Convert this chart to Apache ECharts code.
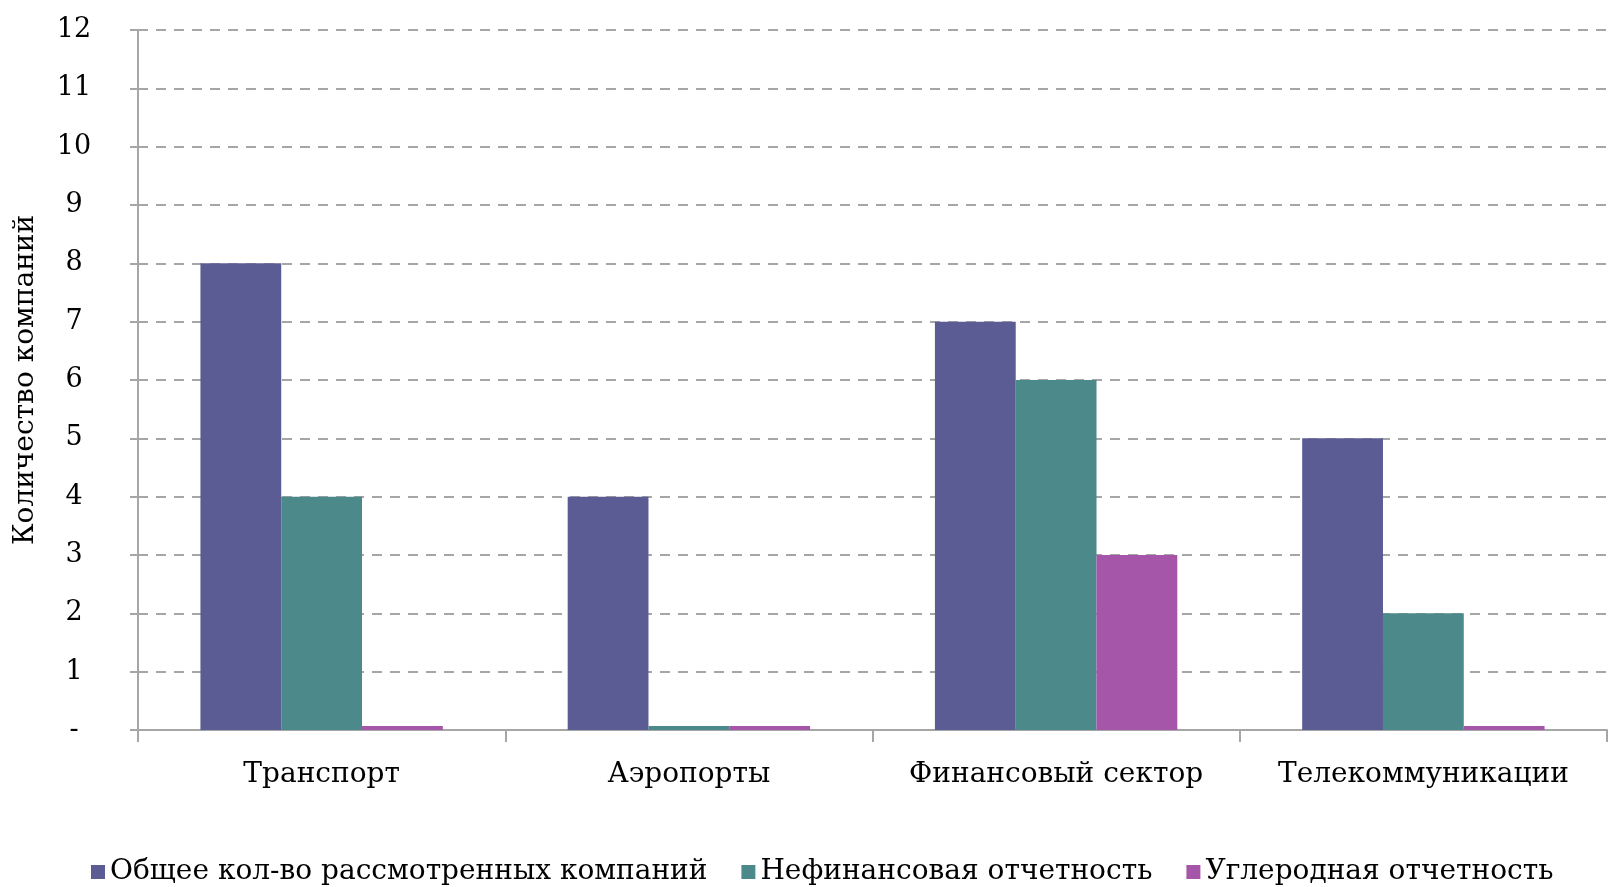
<!DOCTYPE html>
<html>
<head>
<meta charset="utf-8">
<script src="https://cdn.jsdelivr.net/npm/echarts@6/dist/echarts.min.js"></script>
<style>
  html, body { margin: 0; padding: 0; background: #fff; }
  #chart { width: 1608px; height: 887px; }
</style>
</head>
<body>
<div id="chart"></div>
<script>
// данные
var categories = ['Транспорт', 'Аэропорты', 'Финансовый сектор', 'Телекоммуникации'];
var seriesNames = ['Общее кол-во рассмотренных компаний', 'Нефинансовая отчетность', 'Углеродная отчетность'];
var totalCompanies = [8, 4, 7, 5];
var nonFinancial = [4, 0, 6, 2];
var carbon = [0, 0, 3, 0];
var yTicks = { min: 0, max: 12, step: 1 };

var colors = ['#5c5c94', '#4c898b', '#a656a8'];
var font = '"DejaVu Serif", "Liberation Serif", serif';

var vm = echarts.init(document.getElementById('chart'));

function barSeries(name, data, i) {
	return {
		name: name,
		type: 'bar',
		data: data,
		barGap: '0%',
		barCategoryGap: '34%',
		barMinHeight: 4,
		itemStyle: { color: colors[i] }
	};
}

var option = {
	animation: false,
	textStyle: { fontFamily: font },
	grid: { left: 138, right: 1, top: 30, bottom: 157 },
	legend: {
		left: 86,
		top: 853,
		icon: 'rect',
		itemWidth: 14,
		itemHeight: 14,
		itemGap: 34,
		itemTextGap: 8,
		textStyle: { fontFamily: font, fontSize: 28, color: '#000' },
		data: seriesNames
	},
	xAxis: {
		type: 'category',
		data: categories,
		axisLine: { lineStyle: { color: '#a6a6a6', width: 2 } },
		axisTick: { show: true, interval: 0, length: 12, lineStyle: { color: '#a6a6a6', width: 2 } },
		axisLabel: { color: '#000', fontSize: 28, margin: 31, interval: 0, fontFamily: font }
	},
	yAxis: {
		type: 'value',
		min: yTicks.min,
		max: yTicks.max,
		interval: yTicks.step,
		name: 'Количество компаний',
		nameLocation: 'middle',
		nameRotate: 90,
		nameGap: 98,
		nameTextStyle: { color: '#000', fontSize: 28, fontFamily: font },
		axisLine: { show: true, lineStyle: { color: '#a6a6a6', width: 2 } },
		axisTick: { show: true, length: 8, lineStyle: { color: '#a6a6a6', width: 2 } },
		axisLabel: {
			color: '#000',
			fontSize: 27,
			margin: 64,
			align: 'center',
			fontFamily: font,
			formatter: function (v) { return v === 0 ? '-' : String(v); }
		},
		splitLine: { show: true, lineStyle: { color: '#a6a6a6', type: [10, 8], width: 2 } }
	},
	series: [
		barSeries(seriesNames[0], totalCompanies, 0),
		barSeries(seriesNames[1], nonFinancial, 1),
		barSeries(seriesNames[2], carbon, 2)
	]
};

vm.setOption(option);
</script>
</body>
</html>
